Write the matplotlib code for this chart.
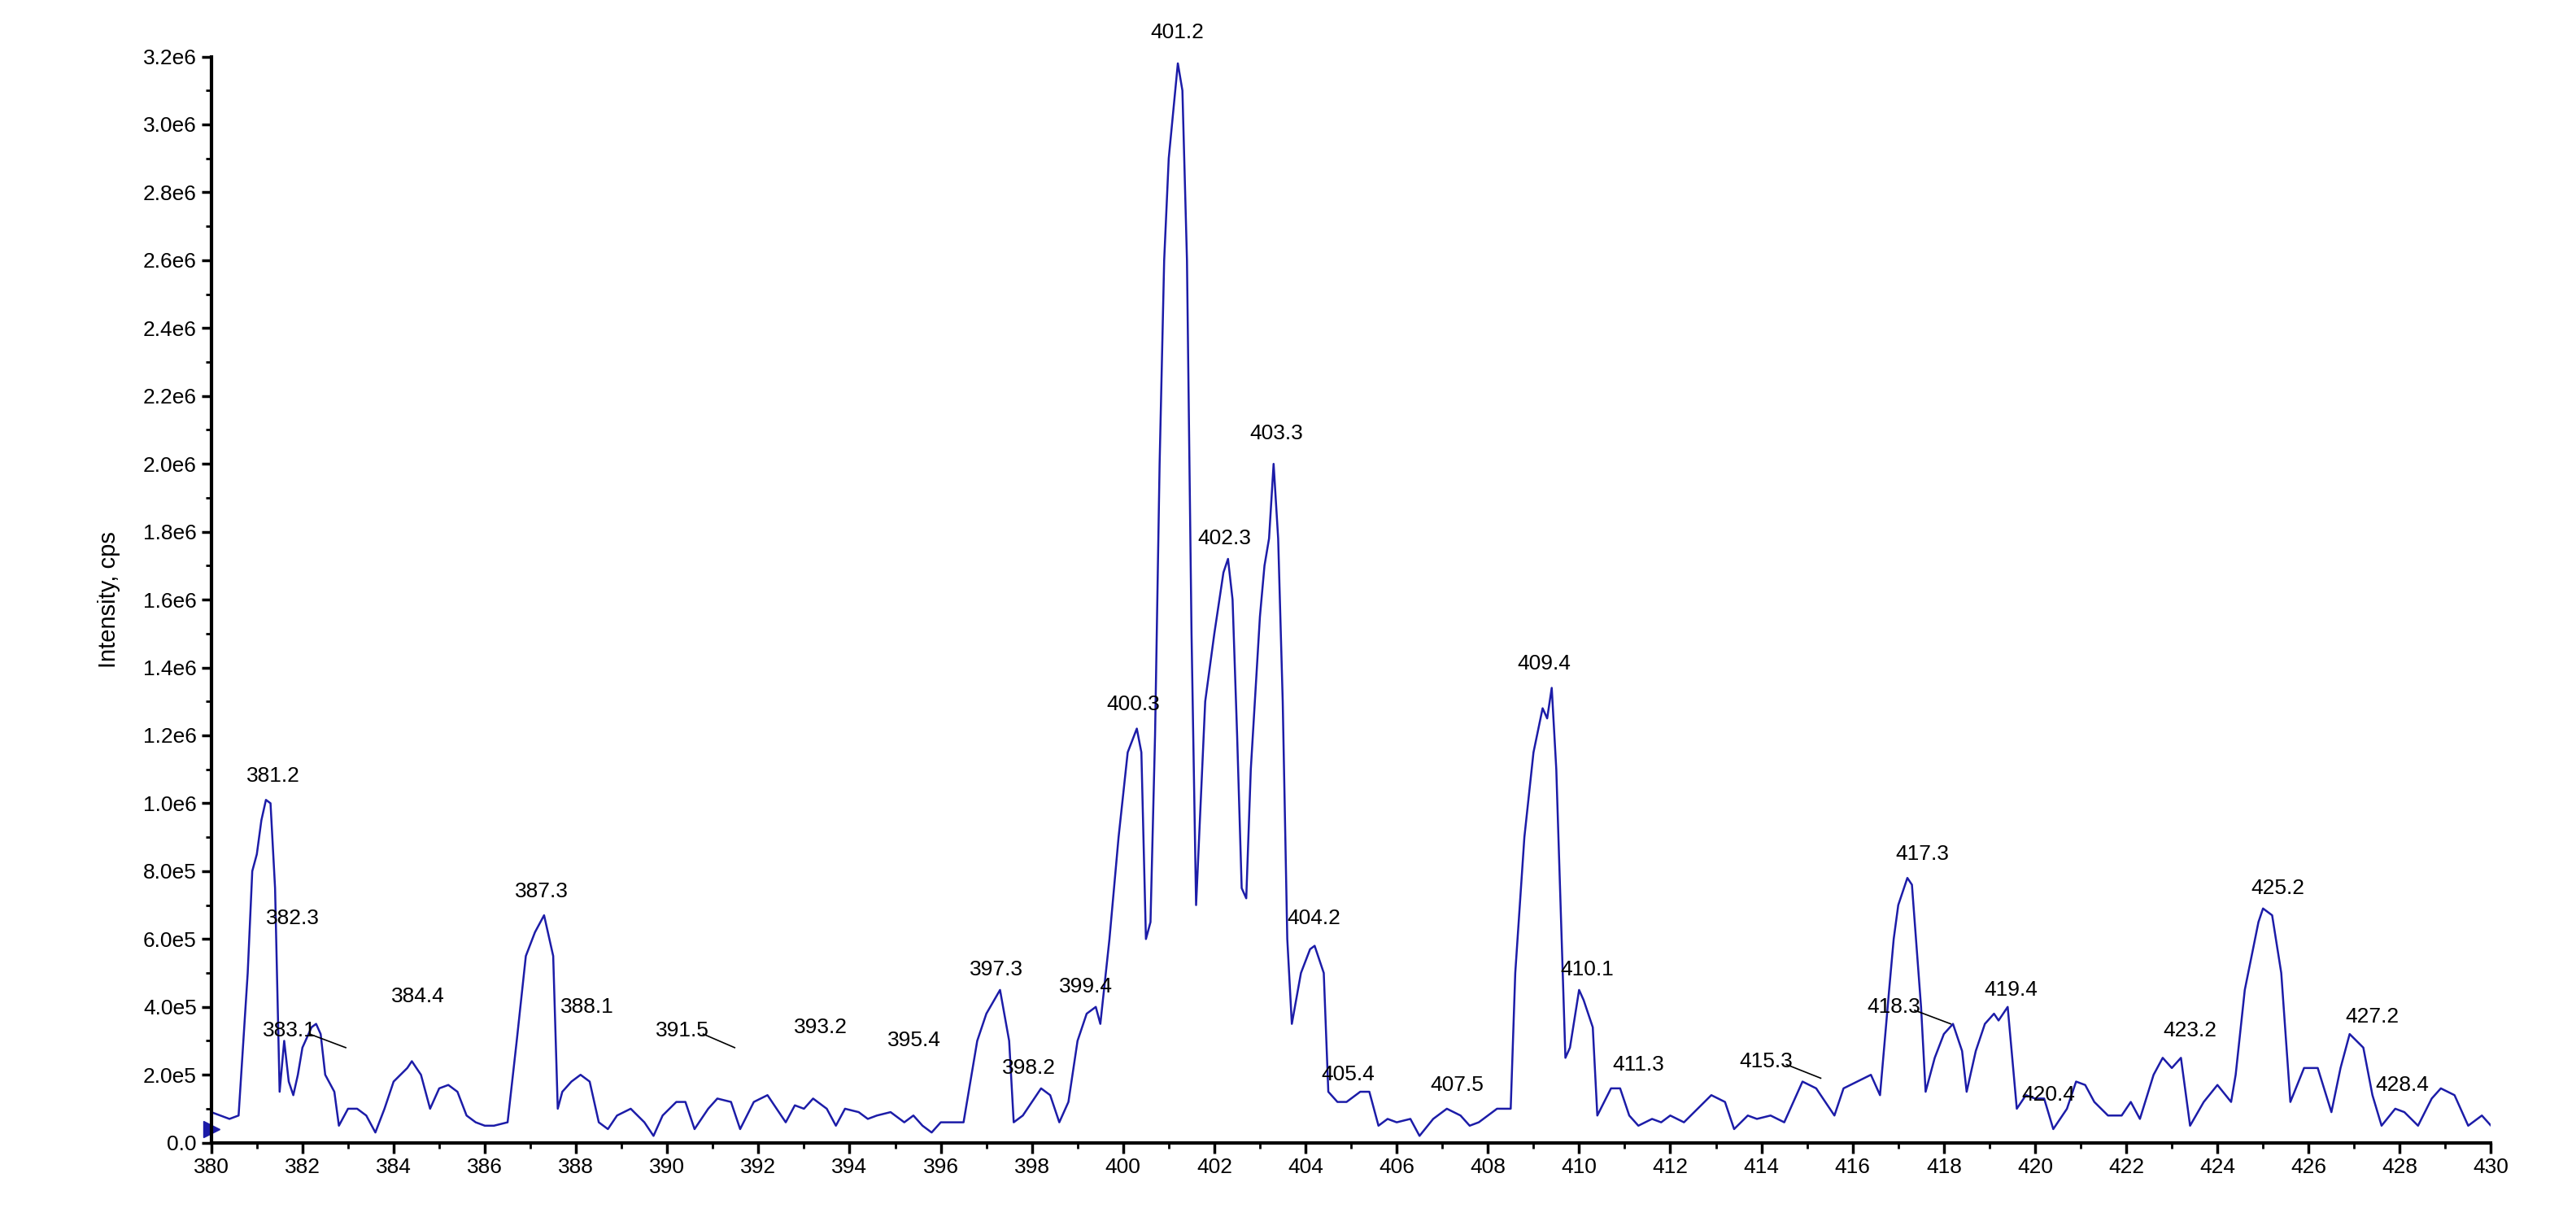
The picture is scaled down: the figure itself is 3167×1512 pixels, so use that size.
import numpy as np
import matplotlib
matplotlib.use('Agg')
from matplotlib import pyplot as plt
from matplotlib.ticker import MultipleLocator, FuncFormatter

# spectrum vertices, m/z and intensity (x1e6 cps)
mz = [380.0, 380.2, 380.4, 380.6, 380.8, 380.9, 381.0, 381.1, 381.2, 381.3, 381.4, 381.5, 381.6, 381.7, 381.8, 381.9,
      382.0, 382.2, 382.3, 382.4, 382.5, 382.7, 382.8, 383.0, 383.2, 383.4, 383.6, 383.8, 384.0, 384.3, 384.4, 384.6,
      384.8, 385.0, 385.2, 385.4, 385.6, 385.8, 386.0, 386.2, 386.5, 386.7, 386.9, 387.1, 387.3, 387.5, 387.6, 387.7,
      387.9, 388.1, 388.3, 388.5, 388.7, 388.9, 389.2, 389.5, 389.7, 389.9, 390.2, 390.4, 390.6, 390.9, 391.1, 391.4,
      391.6, 391.9, 392.2, 392.4, 392.6, 392.8, 393.0, 393.2, 393.5, 393.7, 393.9, 394.2, 394.4, 394.6, 394.9, 395.2,
      395.4, 395.6, 395.8, 396.0, 396.3, 396.5, 396.8, 397.0, 397.3, 397.5, 397.6, 397.8, 398.0, 398.2, 398.4, 398.6,
      398.8, 399.0, 399.2, 399.4, 399.5, 399.7, 399.9, 400.1, 400.3, 400.4, 400.5, 400.6, 400.7, 400.8, 400.9, 401.0,
      401.2, 401.3, 401.4, 401.5, 401.6, 401.7, 401.8, 402.0, 402.2, 402.3, 402.4, 402.5, 402.6, 402.7, 402.8, 403.0,
      403.1, 403.2, 403.3, 403.4, 403.5, 403.6, 403.7, 403.9, 404.1, 404.2, 404.4, 404.5, 404.7, 404.9, 405.2, 405.4,
      405.6, 405.8, 406.0, 406.3, 406.5, 406.8, 407.1, 407.4, 407.6, 407.8, 408.2, 408.5, 408.6, 408.8, 409.0, 409.2,
      409.3, 409.4, 409.5, 409.7, 409.8, 410.0, 410.1, 410.3, 410.4, 410.7, 410.9, 411.1, 411.3, 411.6, 411.8, 412.0,
      412.3, 412.6, 412.9, 413.2, 413.4, 413.7, 413.9, 414.2, 414.5, 414.8, 414.9, 415.2, 415.4, 415.6, 415.8, 416.1,
      416.4, 416.6, 416.8, 416.9, 417.0, 417.2, 417.3, 417.5, 417.6, 417.8, 418.0, 418.2, 418.4, 418.5, 418.7, 418.9,
      419.1, 419.2, 419.4, 419.6, 419.8, 420.0, 420.2, 420.4, 420.7, 420.9, 421.1, 421.3, 421.6, 421.9, 422.1, 422.3,
      422.6, 422.8, 423.0, 423.2, 423.4, 423.7, 424.0, 424.3, 424.4, 424.6, 424.9, 425.0, 425.2, 425.4, 425.6, 425.9,
      426.2, 426.5, 426.7, 426.9, 427.2, 427.4, 427.6, 427.9, 428.1, 428.4, 428.7, 428.9, 429.2, 429.5, 429.8, 430.0]
inten = [0.09, 0.08, 0.07, 0.08, 0.5, 0.8, 0.85, 0.95, 1.01, 1.0, 0.75, 0.15, 0.3, 0.18, 0.14, 0.2,
         0.28, 0.34, 0.35, 0.32, 0.2, 0.15, 0.05, 0.1, 0.1, 0.08, 0.03, 0.1, 0.18, 0.22, 0.24, 0.2,
         0.1, 0.16, 0.17, 0.15, 0.08, 0.06, 0.05, 0.05, 0.06, 0.3, 0.55, 0.62, 0.67, 0.55, 0.1, 0.15,
         0.18, 0.2, 0.18, 0.06, 0.04, 0.08, 0.1, 0.06, 0.02, 0.08, 0.12, 0.12, 0.04, 0.1, 0.13, 0.12,
         0.04, 0.12, 0.14, 0.1, 0.06, 0.11, 0.1, 0.13, 0.1, 0.05, 0.1, 0.09, 0.07, 0.08, 0.09, 0.06,
         0.08, 0.05, 0.03, 0.06, 0.06, 0.06, 0.3, 0.38, 0.45, 0.3, 0.06, 0.08, 0.12, 0.16, 0.14, 0.06,
         0.12, 0.3, 0.38, 0.4, 0.35, 0.6, 0.9, 1.15, 1.22, 1.15, 0.6, 0.65, 1.2, 2.0, 2.6, 2.9,
         3.18, 3.1, 2.6, 1.5, 0.7, 1.0, 1.3, 1.5, 1.68, 1.72, 1.6, 1.2, 0.75, 0.72, 1.1, 1.55,
         1.7, 1.78, 2.0, 1.78, 1.3, 0.6, 0.35, 0.5, 0.57, 0.58, 0.5, 0.15, 0.12, 0.12, 0.15, 0.15,
         0.05, 0.07, 0.06, 0.07, 0.02, 0.07, 0.1, 0.08, 0.05, 0.06, 0.1, 0.1, 0.5, 0.9, 1.15, 1.28,
         1.25, 1.34, 1.1, 0.25, 0.28, 0.45, 0.42, 0.34, 0.08, 0.16, 0.16, 0.08, 0.05, 0.07, 0.06, 0.08,
         0.06, 0.1, 0.14, 0.12, 0.04, 0.08, 0.07, 0.08, 0.06, 0.15, 0.18, 0.16, 0.12, 0.08, 0.16, 0.18,
         0.2, 0.14, 0.45, 0.6, 0.7, 0.78, 0.76, 0.4, 0.15, 0.25, 0.32, 0.35, 0.27, 0.15, 0.27, 0.35,
         0.38, 0.36, 0.4, 0.1, 0.14, 0.13, 0.13, 0.04, 0.1, 0.18, 0.17, 0.12, 0.08, 0.08, 0.12, 0.07,
         0.2, 0.25, 0.22, 0.25, 0.05, 0.12, 0.17, 0.12, 0.2, 0.45, 0.65, 0.69, 0.67, 0.5, 0.12, 0.22,
         0.22, 0.09, 0.22, 0.32, 0.28, 0.14, 0.05, 0.1, 0.09, 0.05, 0.13, 0.16, 0.14, 0.05, 0.08, 0.05]

# peak labels: text, text x, text y, leader end (or None)
lbl_txt = ['381.2', '382.3', '383.1', '384.4', '387.3', '388.1', '391.5', '393.2', '395.4', '397.3', '398.2',
           '399.4', '400.3', '401.2', '402.3', '403.3', '404.2', '405.4', '407.5', '409.4', '410.1', '411.3',
           '415.3', '417.3', '418.3', '419.4', '420.4', '423.2', '425.2', '427.2', '428.4']
lbl_x = [381.36, 381.78, 381.71, 384.53, 387.24, 388.24, 390.34, 393.37, 395.41, 397.22, 397.94,
         399.19, 400.22, 401.18, 402.22, 403.36, 404.18, 404.93, 407.32, 409.24, 410.17, 411.3,
         414.1, 417.52, 416.91, 419.48, 420.30, 423.40, 425.33, 427.4, 428.05]
lbl_y = [1.08, 0.66, 0.33, 0.43, 0.74, 0.40, 0.33, 0.34, 0.30, 0.51, 0.22,
         0.46, 1.29, 3.27, 1.78, 2.09, 0.66, 0.20, 0.17, 1.41, 0.51, 0.23,
         0.24, 0.85, 0.40, 0.45, 0.14, 0.33, 0.75, 0.37, 0.17]
leaders = {'383.1': (382.95, 0.28), '391.5': (391.48, 0.28), '415.3': (415.3, 0.19), '418.3': (418.15, 0.35)}


def sci_fmt(v, pos):
    if v == 0:
        return '0.0'
    e = int(np.floor(np.log10(abs(v))))
    return '%.1fe%d' % (v / 10 ** e, e)


fig = plt.figure(figsize=(31.67, 15.12), dpi=100)
ax = fig.add_axes([0.082, 0.071, 0.885, 0.883])
ax.plot(mz, np.array(inten) * 1e6, color='#1c1ca8', lw=1.8)

for t, x, y in zip(lbl_txt, lbl_x, lbl_y):
    ax.text(x, y * 1e6, t, ha='center', va='center', fontsize=19, family='Liberation Sans')
    if t in leaders:
        ex, ey = leaders[t]
        ax.plot([x + 0.45, ex], [y * 1e6 - 0.01e6, ey * 1e6], color='black', lw=1.2)

ax.set_xlim(380, 430)
ax.set_ylim(0, 3.2e6)
ax.xaxis.set_major_locator(MultipleLocator(2))
ax.xaxis.set_minor_locator(MultipleLocator(1))
ax.yaxis.set_major_locator(MultipleLocator(2e5))
ax.yaxis.set_minor_locator(MultipleLocator(1e5))
ax.yaxis.set_major_formatter(FuncFormatter(sci_fmt))
ax.tick_params(which='major', length=9, width=2.5, labelsize=19, pad=4)
ax.tick_params(which='minor', length=5, width=2)
for lab in ax.get_xticklabels() + ax.get_yticklabels():
    lab.set_family('Liberation Sans')
ax.spines['top'].set_visible(False)
ax.spines['right'].set_visible(False)
ax.spines['left'].set_linewidth(3)
ax.spines['bottom'].set_linewidth(3)
ax.set_ylabel('Intensity, cps', fontsize=21, family='Liberation Sans', labelpad=20)
ax.plot([380], [0.4e5], marker='>', color='#1c1ca8', ms=14, clip_on=False)

fig.savefig('out.png', dpi=100)
